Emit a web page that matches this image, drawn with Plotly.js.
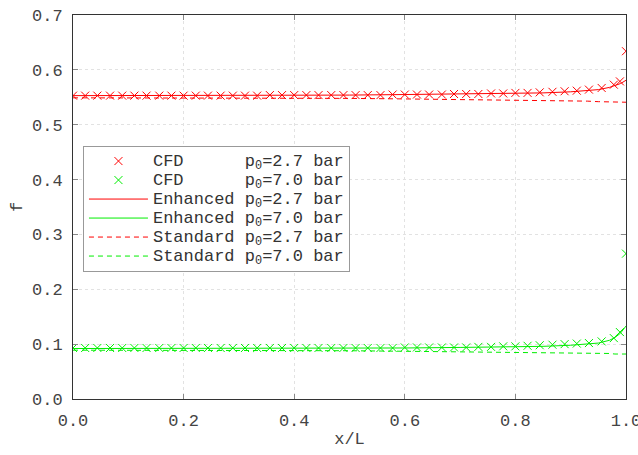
<!DOCTYPE html>
<html>
<head>
<meta charset="utf-8">
<script src="https://cdn.plot.ly/plotly-3.0.1.min.js"></script>
<style>html,body{margin:0;padding:0;background:#fff;}#chart{width:638px;height:455px;}</style>
</head>
<body>
<div id="chart"></div>
<script>
// CFD sample positions (x/L)
var cfdX = [0.000,0.022,0.044,0.067,0.089,0.111,0.133,0.156,0.178,0.200,
            0.222,0.244,0.267,0.289,0.311,0.333,0.356,0.378,0.400,0.422,
            0.444,0.467,0.489,0.511,0.533,0.556,0.578,0.600,0.622,0.644,
            0.667,0.689,0.711,0.733,0.756,0.778,0.800,0.822,0.844,0.867,
            0.889,0.911,0.933,0.956,0.978,0.989,1.000];
var cfdLow = [0.553,0.553,0.553,0.553,0.553,0.553,0.553,0.553,0.553,0.553,
              0.553,0.553,0.553,0.553,0.553,0.553,0.554,0.554,0.554,0.554,
              0.554,0.554,0.554,0.554,0.554,0.554,0.555,0.555,0.555,0.555,
              0.555,0.556,0.556,0.556,0.557,0.557,0.558,0.558,0.559,0.560,
              0.561,0.562,0.564,0.567,0.573,0.579,0.634];
var cfdHigh = [0.093,0.093,0.093,0.093,0.093,0.093,0.093,0.093,0.093,0.093,
               0.093,0.093,0.093,0.093,0.093,0.093,0.093,0.093,0.093,0.093,
               0.093,0.093,0.093,0.093,0.093,0.093,0.093,0.094,0.094,0.094,
               0.094,0.094,0.094,0.095,0.095,0.096,0.096,0.097,0.098,0.099,
               0.100,0.101,0.102,0.105,0.111,0.122,0.265];
// Model curves
var lineX = [0.0,0.1,0.2,0.3,0.4,0.5,0.6,0.7,0.8,0.85,0.9,0.93,0.95,0.97,0.98,0.99,1.0];
var enhLow = [0.553,0.553,0.553,0.553,0.554,0.554,0.555,0.556,0.557,0.558,0.560,0.562,0.564,0.568,0.571,0.575,0.581];
var enhHigh = [0.092,0.092,0.092,0.092,0.092,0.093,0.093,0.094,0.095,0.096,0.098,0.100,0.102,0.107,0.112,0.120,0.133];
var stdLow = [0.549,0.549,0.549,0.548,0.548,0.548,0.547,0.546,0.545,0.544,0.543,0.543,0.542,0.542,0.541,0.541,0.541];
var stdHigh = [0.089,0.089,0.089,0.088,0.088,0.088,0.087,0.086,0.085,0.085,0.084,0.084,0.083,0.083,0.082,0.082,0.082];

var xTicks = [0.0,0.2,0.4,0.6,0.8,1.0];
var yTicks = [0.0,0.1,0.2,0.3,0.4,0.5,0.6,0.7];

var RED = '#ff0000', GREEN = '#00ee00';
var NB = '\u00A0';
function lab(a, p) { return '<span style="font-size:17px">' + a + 'p<sub>0</sub>=' + p + NB + 'bar</span>'; }
var dashPat = '5px,4px';

var traces = [
  {x: cfdX, y: cfdLow, mode: 'markers', marker: {symbol: 'x-thin-open', size: 8, color: RED, line: {color: RED, width: 1}}, name: lab('CFD' + NB+NB+NB+NB+NB+NB, '2.7')},
  {x: cfdX, y: cfdHigh, mode: 'markers', marker: {symbol: 'x-thin-open', size: 8, color: GREEN, line: {color: GREEN, width: 1}}, name: lab('CFD' + NB+NB+NB+NB+NB+NB, '7.0')},
  {x: lineX, y: enhLow, mode: 'lines', line: {color: RED, width: 1, dash: 'solid'}, name: lab('Enhanced' + NB, '2.7')},
  {x: lineX, y: enhHigh, mode: 'lines', line: {color: GREEN, width: 1, dash: 'solid'}, name: lab('Enhanced' + NB, '7.0')},
  {x: lineX, y: stdLow, mode: 'lines', line: {color: RED, width: 1, dash: dashPat}, name: lab('Standard' + NB, '2.7')},
  {x: lineX, y: stdHigh, mode: 'lines', line: {color: GREEN, width: 1, dash: dashPat}, name: lab('Standard' + NB, '7.0')}
];

var FONT = 'Liberation Mono, Courier New, monospace';
var layout = {
  width: 638, height: 455,
  margin: {l: 73, r: 12, t: 15, b: 56},
  paper_bgcolor: '#fff', plot_bgcolor: '#fff',
  font: {family: FONT, size: 17, color: '#444'},
  showlegend: true,
  legend: {x: 0.018, y: 0.66, xanchor: 'left', yanchor: 'top',
           bgcolor: '#fff', bordercolor: '#999', borderwidth: 1,
           font: {family: FONT, size: 12.3, color: '#333'}, itemwidth: 59, traceorder: 'normal'},
  xaxis: {range: [0, 1], tickvals: xTicks, ticktext: xTicks.map(function(v){return v.toFixed(1);}),
          showgrid: true, gridcolor: '#e2e2e2', griddash: 'dot', gridwidth: 1,
          showline: true, linecolor: '#333', linewidth: 1, mirror: 'ticks',
          ticks: 'inside', ticklen: 5, tickcolor: '#888', zeroline: false,
          ticklabelstandoff: 6, ticklabeloverflow: 'allow',
          tickfont: {family: FONT, size: 17, color: '#444'},
          title: {text: 'x/L', font: {family: FONT, size: 17, color: '#444'}, standoff: 1}},
  yaxis: {range: [0, 0.7], tickvals: yTicks, ticktext: yTicks.map(function(v){return v.toFixed(1);}),
          showgrid: true, gridcolor: '#e2e2e2', griddash: 'dot', gridwidth: 1,
          showline: true, linecolor: '#333', linewidth: 1, mirror: 'ticks',
          ticks: 'inside', ticklen: 5, tickcolor: '#888', zeroline: false, ticklabelstandoff: 6,
          tickfont: {family: FONT, size: 17, color: '#444'},
          title: {text: 'f', font: {family: FONT, size: 17, color: '#444'}, standoff: 5}}
};

Plotly.newPlot('chart', traces, layout, {displayModeBar: false, staticPlot: true});
</script>
</body>
</html>
